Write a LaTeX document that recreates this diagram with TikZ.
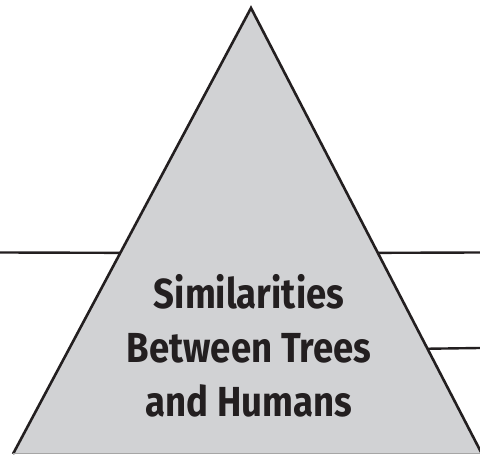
\documentclass[tikz,border=0pt]{standalone}
\usepackage{fontspec}
\setmainfont{Fira Sans}[FakeStretch=0.87]
\usepackage{xcolor}
\usetikzlibrary{positioning, calc}
\definecolor{pyrgray}{HTML}{D1D2D4}
\definecolor{inkblack}{HTML}{231F20}

\begin{document}
\begin{tikzpicture}[x=1pt, y=1pt,
	side/.style={draw=inkblack, line width=2.6pt, line join=miter},
	rule/.style={draw=inkblack, line width=2.4pt},
	title/.style={font=\fontsize{42}{53}\selectfont\bfseries, text=inkblack, inner sep=0pt, anchor=base}]
	\useasboundingbox (0,0) rectangle (480,455);
	% Define the corners of the pyramid
	\coordinate (apex) at (251,447);
	\coordinate (bl) at (13,1);
	\coordinate (br) at (482,1);
	
	% Draw the pyramid
	\begin{scope}
		\clip (0,0) rectangle (480,455);
		\fill[pyrgray] (apex) -- (bl) -- (br) -- cycle;
		\draw[side] (bl) -- (apex) -- (br);
		\draw[gray!70, line width=1pt] (bl) -- (br);
	\end{scope}
	
	% Define the writing lines
	\coordinate (lefttop) at (0,202.5);
	\coordinate (righttop) at (480,202.5);
	\coordinate (rightlow) at (480,107);
	\draw[rule] (lefttop) -- ($(apex)!0.549!(bl)$);
	\draw[rule] ($(apex)!0.549!(br)$) -- (righttop);
	\draw[rule] ($(apex)!0.764!(br)$) -- (rightlow);
	
	% Define the title
	\node[title] (sim) at (249,146) {Similarities};
	\node[title] (betw) at (249,92) {Between Trees};
	\node[title] (hum) at (249,38) {and Humans};
\end{tikzpicture}
\end{document}
